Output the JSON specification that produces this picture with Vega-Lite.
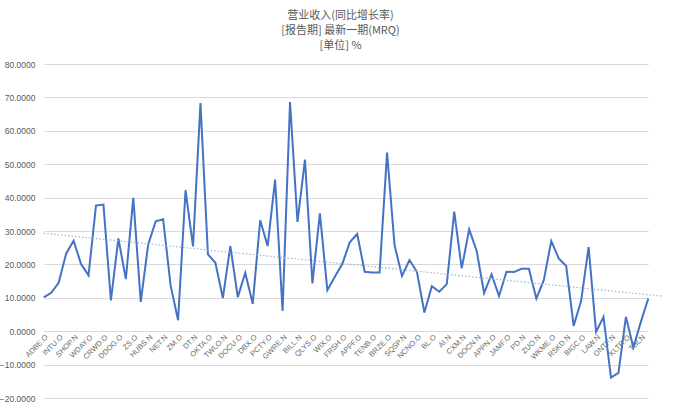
{
  "$schema": "https://vega.github.io/schema/vega-lite/v6.json",
  "autosize": "none",
  "width": 627,
  "height": 334,
  "padding": {"left": 40, "top": 64, "right": 13, "bottom": 11},
  "background": "white",
  "title": {
    "text": ["营业收入(同比增长率)", "[报告期] 最新一期(MRQ)", "[单位] %"],
    "font": "Noto Sans CJK SC",
    "fontSize": 11,
    "fontWeight": "normal",
    "color": "#595959",
    "lineHeight": 15,
    "anchor": "middle",
    "dx": -13,
    "offset": 9
  },
  "config": {
    "view": {"stroke": null},
    "axis": {"labelFont": "Liberation Sans", "labelColor": "#595959"}
  },
  "data": {
    "values": [
      {"i": 1, "name": "ADBE.O", "value": 10.1},
      {"i": 2, "name": "CRM.N", "value": 11.5},
      {"i": 3, "name": "INTU.O", "value": 14.5},
      {"i": 4, "name": "NOW.N", "value": 23.2},
      {"i": 5, "name": "SHOP.N", "value": 27.1},
      {"i": 6, "name": "SNOW.N", "value": 20.1},
      {"i": 7, "name": "WDAY.O", "value": 16.7},
      {"i": 8, "name": "TEAM.O", "value": 37.6},
      {"i": 9, "name": "CRWD.O", "value": 37.9},
      {"i": 10, "name": "ADSK.O", "value": 9.2},
      {"i": 11, "name": "DDOG.O", "value": 27.8},
      {"i": 12, "name": "VEEV.N", "value": 15.6},
      {"i": 13, "name": "ZS.O", "value": 39.9},
      {"i": 14, "name": "ANSS.O", "value": 8.8},
      {"i": 15, "name": "HUBS.N", "value": 26.0},
      {"i": 16, "name": "MDB.O", "value": 32.9},
      {"i": 17, "name": "NET.N", "value": 33.5},
      {"i": 18, "name": "TYL.N", "value": 13.7},
      {"i": 19, "name": "ZM.O", "value": 3.3},
      {"i": 20, "name": "MNDY.O", "value": 42.2},
      {"i": 21, "name": "DT.N", "value": 25.4},
      {"i": 22, "name": "IOT.N", "value": 68.3},
      {"i": 23, "name": "OKTA.O", "value": 23.0},
      {"i": 24, "name": "PAYC.N", "value": 20.5},
      {"i": 25, "name": "TWLO.N", "value": 9.9},
      {"i": 26, "name": "ESTC.N", "value": 25.5},
      {"i": 27, "name": "DOCU.O", "value": 10.2},
      {"i": 28, "name": "PATH.N", "value": 17.5},
      {"i": 29, "name": "DBX.O", "value": 8.2},
      {"i": 30, "name": "CFLT.O", "value": 33.2},
      {"i": 31, "name": "PCTY.O", "value": 25.5},
      {"i": 32, "name": "GTLB.O", "value": 45.4},
      {"i": 33, "name": "GWRE.N", "value": 6.1},
      {"i": 34, "name": "S.N", "value": 68.6},
      {"i": 35, "name": "BILL.N", "value": 32.7},
      {"i": 36, "name": "PCOR.N", "value": 51.4},
      {"i": 37, "name": "QLYS.O", "value": 14.3},
      {"i": 38, "name": "SMAR.N", "value": 35.3},
      {"i": 39, "name": "WIX.O", "value": 12.3},
      {"i": 40, "name": "SPSC.O", "value": 16.3},
      {"i": 41, "name": "FRSH.O", "value": 20.1},
      {"i": 42, "name": "DOCS.N", "value": 26.6},
      {"i": 43, "name": "APPF.O", "value": 29.1},
      {"i": 44, "name": "BOX.N", "value": 17.8},
      {"i": 45, "name": "TENB.O", "value": 17.6},
      {"i": 46, "name": "ALRM.O", "value": 17.6},
      {"i": 47, "name": "BRZE.O", "value": 53.5},
      {"i": 48, "name": "CWAN.N", "value": 25.8},
      {"i": 49, "name": "SQSP.N", "value": 16.5},
      {"i": 50, "name": "FIVN.O", "value": 21.3},
      {"i": 51, "name": "NCNO.O", "value": 17.8},
      {"i": 52, "name": "VRNS.O", "value": 5.6},
      {"i": 53, "name": "BL.O", "value": 13.5},
      {"i": 54, "name": "ASAN.N", "value": 11.8},
      {"i": 55, "name": "AI.N", "value": 14.1},
      {"i": 56, "name": "FROG.O", "value": 35.8},
      {"i": 57, "name": "CXM.N", "value": 18.8},
      {"i": 58, "name": "RPD.O", "value": 30.5},
      {"i": 59, "name": "DOCN.N", "value": 24.1},
      {"i": 60, "name": "PWSC.O", "value": 11.4},
      {"i": 61, "name": "APPN.O", "value": 17.0},
      {"i": 62, "name": "PRO.N", "value": 10.5},
      {"i": 63, "name": "JAMF.O", "value": 17.8},
      {"i": 64, "name": "ALKT.O", "value": 17.7},
      {"i": 65, "name": "PD.N", "value": 18.7},
      {"i": 66, "name": "AVPT.O", "value": 18.7},
      {"i": 67, "name": "ZUO.N", "value": 9.8},
      {"i": 68, "name": "EGHT.N", "value": 15.3},
      {"i": 69, "name": "WKME.O", "value": 27.0},
      {"i": 70, "name": "YEXT.N", "value": 21.8},
      {"i": 71, "name": "RSKD.N", "value": 19.5},
      {"i": 72, "name": "DOMO.O", "value": 1.6},
      {"i": 73, "name": "BIGC.O", "value": 9.1},
      {"i": 74, "name": "MLNK.N", "value": 25.2},
      {"i": 75, "name": "LAW.N", "value": -0.2},
      {"i": 76, "name": "AMPL.O", "value": 4.3},
      {"i": 77, "name": "ONTF.N", "value": -13.9},
      {"i": 78, "name": "ENFN.N", "value": -12.5},
      {"i": 79, "name": "KLTR.O", "value": 4.3},
      {"i": 80, "name": "BLND.N", "value": -4.9},
      {"i": 81, "name": "TBLN", "value": 2.8},
      {"i": 82, "name": "EXFY.O", "value": 9.8}
    ]
  },
  "layer": [
    {
      "mark": {"type": "line", "color": "#4472C4", "strokeWidth": 2},
      "encoding": {
        "x": {
          "field": "name",
          "type": "nominal",
          "sort": null,
          "scale": {"type": "point", "range": [3.73, 608.3], "padding": 0},
          "axis": {
            "title": null,
            "values": ["ADBE.O","INTU.O","SHOP.N","WDAY.O","CRWD.O","DDOG.O","ZS.O","HUBS.N","NET.N","ZM.O","DT.N","OKTA.O","TWLO.N","DOCU.O","DBX.O","PCTY.O","GWRE.N","BILL.N","QLYS.O","WIX.O","FRSH.O","APPF.O","TENB.O","BRZE.O","SQSP.N","NCNO.O","BL.O","AI.N","CXM.N","DOCN.N","APPN.O","JAMF.O","PD.N","ZUO.N","WKME.O","RSKD.N","BIGC.O","LAW.N","ONTF.N","KLTR.O","TBLN"],
            "labelAngle": -45,
            "labelAlign": "right",
            "labelBaseline": "top",
            "labelFontSize": 7.5,
            "labelColor": "#6b6b6b",
            "labelPadding": 2,
            "ticks": false,
            "domain": false,
            "grid": false,
            "offset": -67,
            "labelOverlap": false
          }
        },
        "y": {
          "field": "value",
          "type": "quantitative",
          "scale": {"domain": [-20, 80], "nice": false, "zero": false},
          "axis": {
            "title": null,
            "values": [-20, -10, 0, 10, 20, 30, 40, 50, 60, 70, 80],
            "format": ".4f",
            "labelFontSize": 8.5,
            "labelPadding": 5,
            "labelOverlap": false,
            "ticks": false,
            "domain": false,
            "grid": true,
            "gridColor": "#d9d9d9",
            "gridWidth": 1
          }
        }
      }
    },
    {
      "transform": [{"regression": "value", "on": "i", "extent": [1, 84]}],
      "mark": {"type": "line", "color": "#9db3dc", "strokeWidth": 1.2, "strokeDash": [1.5, 2]},
      "encoding": {
        "x": {
          "field": "i",
          "type": "quantitative",
          "scale": {"domain": [0.5, 84.5], "nice": false, "zero": false},
          "axis": null
        },
        "y": {
          "field": "value",
          "type": "quantitative",
          "scale": {"domain": [-20, 80], "nice": false, "zero": false},
          "axis": {
            "title": null,
            "values": [-20, -10, 0, 10, 20, 30, 40, 50, 60, 70, 80],
            "format": ".4f",
            "labelFontSize": 8.5,
            "labelPadding": 5,
            "labelOverlap": false,
            "ticks": false,
            "domain": false,
            "grid": true,
            "gridColor": "#d9d9d9",
            "gridWidth": 1
          }
        }
      }
    }
  ],
  "resolve": {"scale": {"x": "independent"}, "axis": {"x": "independent"}}
}
